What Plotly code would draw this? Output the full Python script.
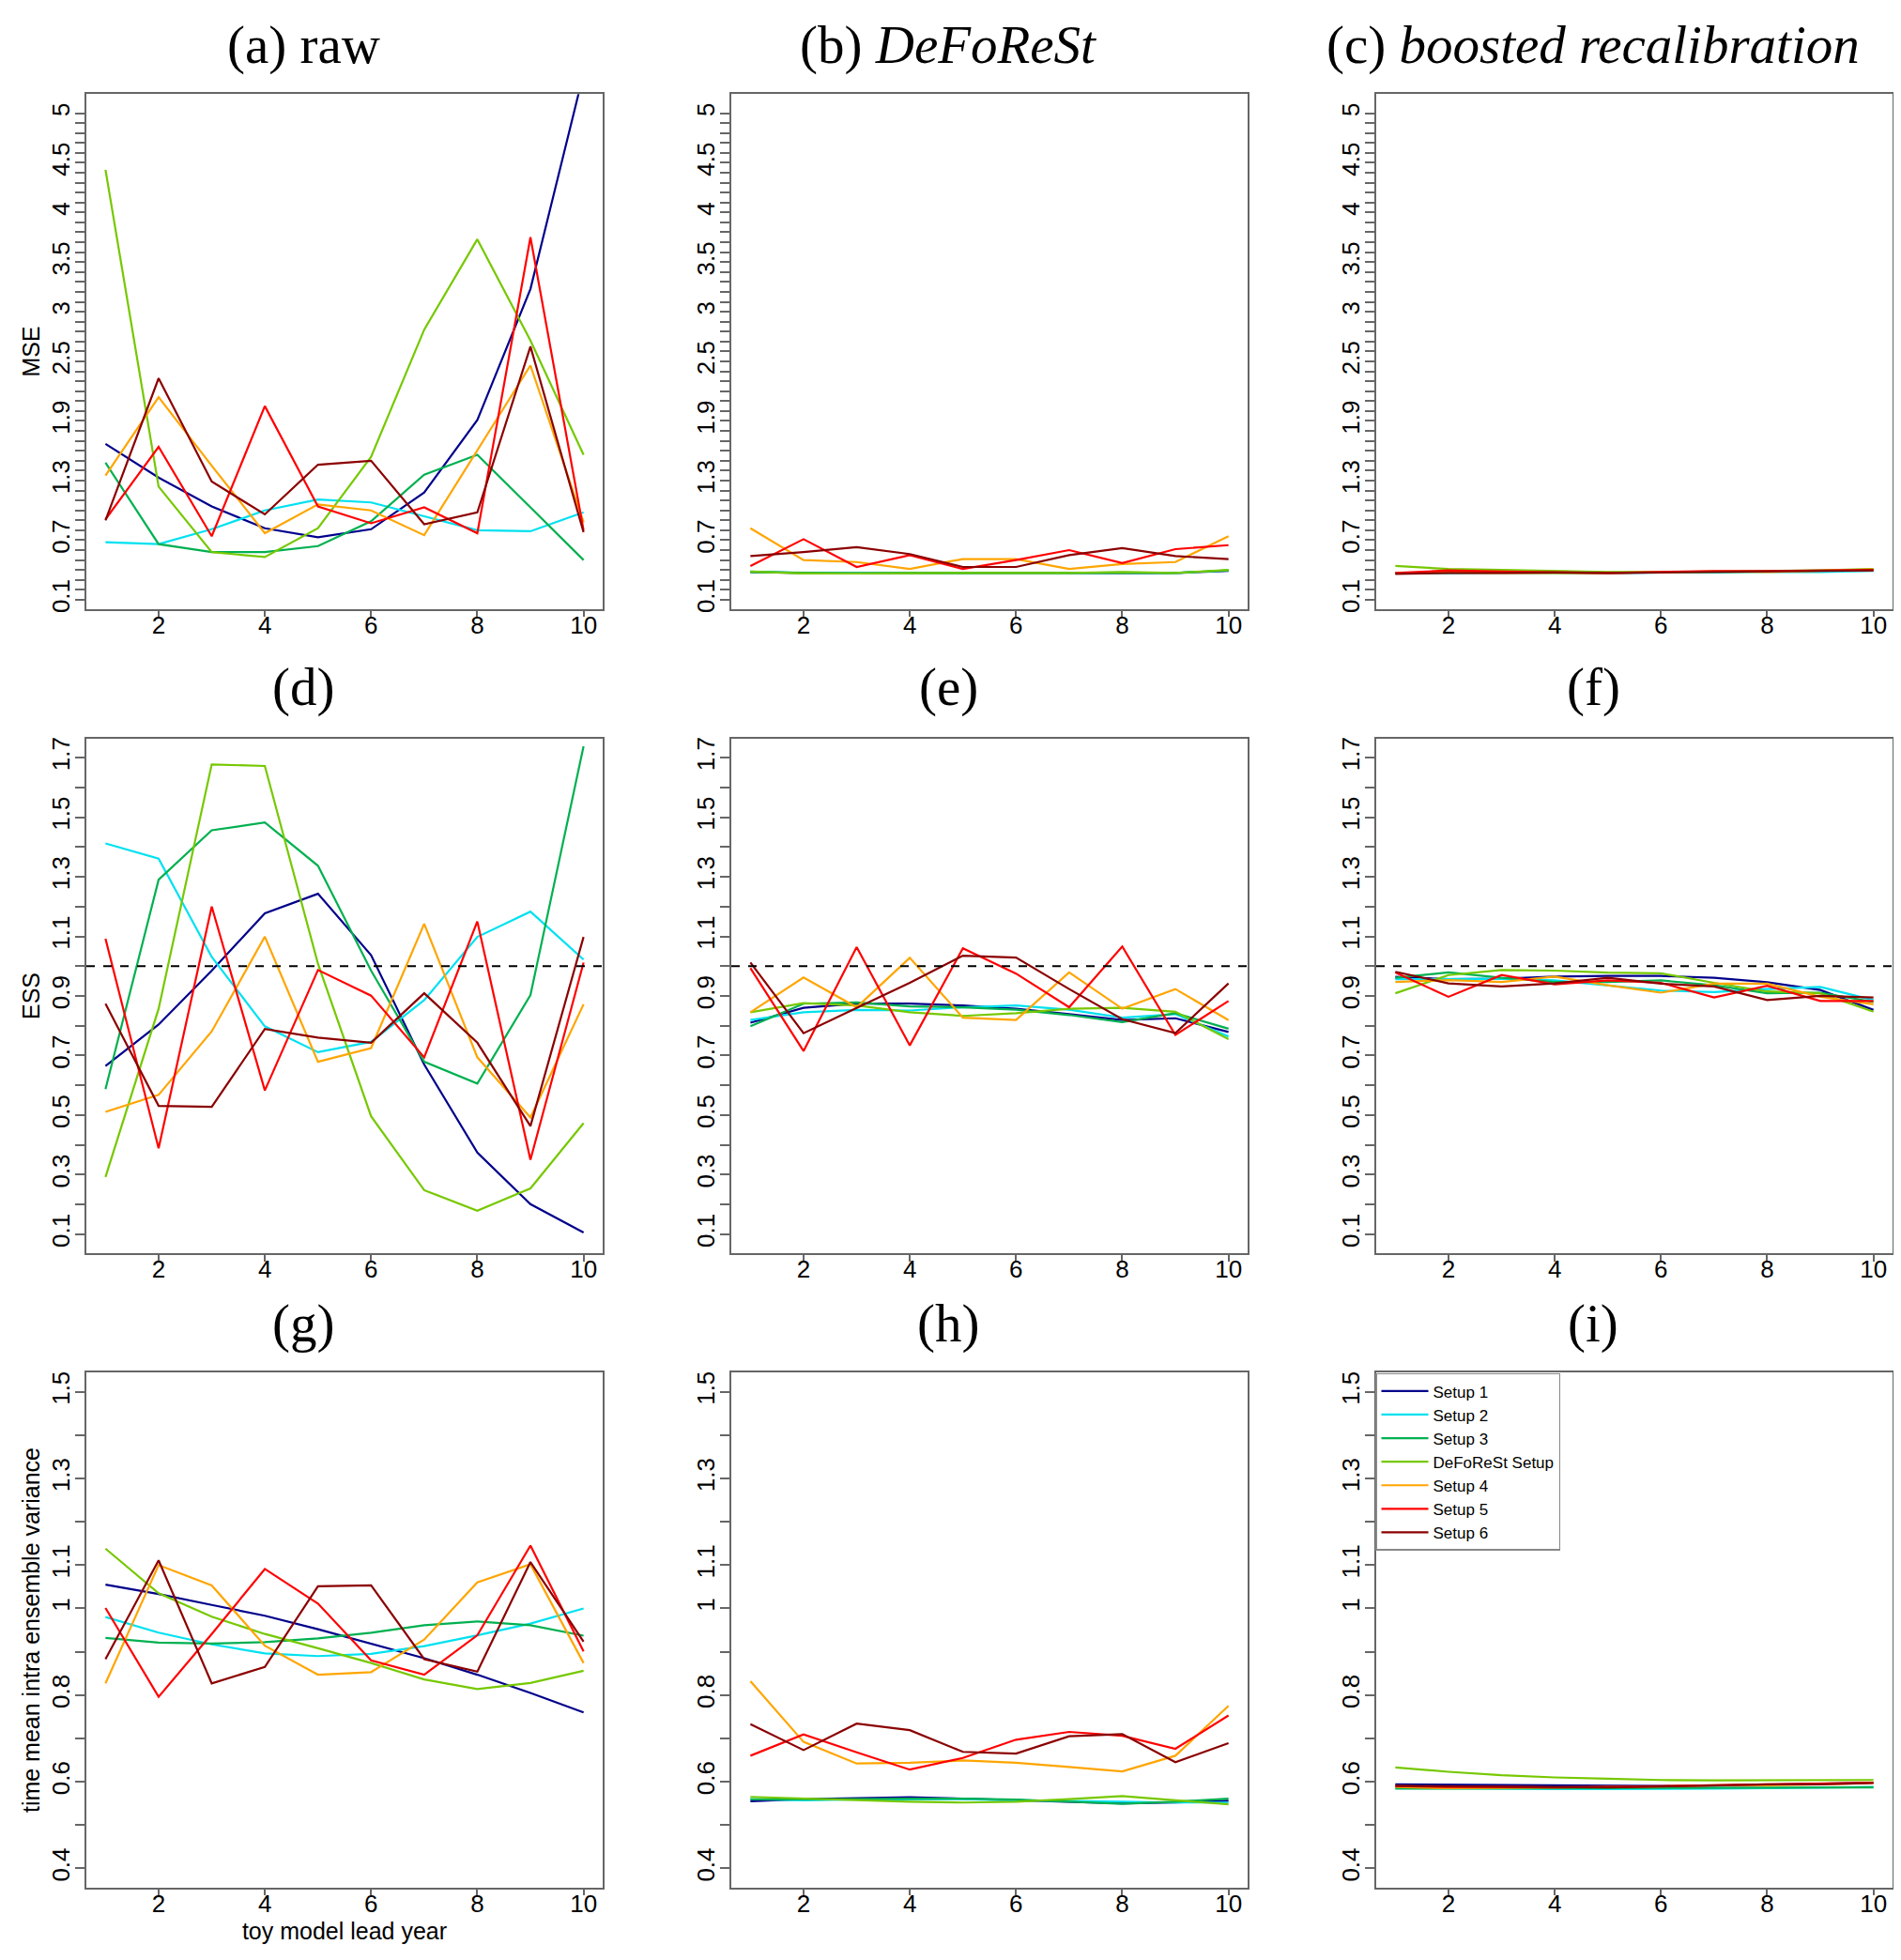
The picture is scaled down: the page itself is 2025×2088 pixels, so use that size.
import plotly.graph_objects as go

# ---------------- data ----------------
years = [1, 2, 3, 4, 5, 6, 7, 8, 9, 10]
setups = ["Setup 1", "Setup 2", "Setup 3", "DeFoReSt Setup", "Setup 4", "Setup 5", "Setup 6"]
colors = ["#00008B", "#00E1F0", "#00B050", "#76C800", "#FFA500", "#FF0000", "#8B0000"]

# MSE  (rows follow `setups`)
mse_raw = [
    [1.67, 1.33, 1.04, 0.82, 0.73, 0.81, 1.18, 1.91, 3.23, 5.40],
    [0.68, 0.66, 0.81, 1.00, 1.11, 1.08, 0.94, 0.80, 0.79, 0.98],
    [1.48, 0.66, 0.58, 0.58, 0.64, 0.89, 1.36, 1.56, 1.03, 0.50],
    [4.43, 1.24, 0.58, 0.53, 0.82, 1.54, 2.82, 3.73, 2.71, 1.56],
    [1.35, 2.14, 1.45, 0.77, 1.06, 1.00, 0.75, 1.60, 2.46, 0.88],
    [0.91, 1.64, 0.74, 2.05, 1.04, 0.87, 1.03, 0.77, 3.75, 0.80],
    [0.90, 2.33, 1.29, 0.96, 1.46, 1.50, 0.86, 0.98, 2.65, 0.78],
]
mse_deforest = [
    [0.38, 0.37, 0.37, 0.37, 0.37, 0.37, 0.37, 0.375, 0.37, 0.39],
    [0.385, 0.37, 0.37, 0.37, 0.37, 0.365, 0.37, 0.375, 0.37, 0.395],
    [0.38, 0.37, 0.365, 0.37, 0.37, 0.37, 0.37, 0.37, 0.37, 0.395],
    [0.385, 0.365, 0.365, 0.37, 0.37, 0.37, 0.37, 0.38, 0.37, 0.40],
    [0.82, 0.50, 0.48, 0.41, 0.51, 0.51, 0.41, 0.46, 0.48, 0.74],
    [0.44, 0.71, 0.43, 0.55, 0.41, 0.50, 0.60, 0.47, 0.61, 0.65],
    [0.54, 0.58, 0.63, 0.56, 0.43, 0.43, 0.55, 0.62, 0.54, 0.51],
]
mse_boosted = [
    [0.37, 0.375, 0.375, 0.375, 0.37, 0.375, 0.38, 0.385, 0.39, 0.395],
    [0.365, 0.37, 0.37, 0.37, 0.37, 0.37, 0.375, 0.38, 0.38, 0.39],
    [0.37, 0.375, 0.375, 0.37, 0.37, 0.375, 0.38, 0.385, 0.39, 0.40],
    [0.44, 0.41, 0.40, 0.39, 0.38, 0.38, 0.385, 0.39, 0.395, 0.41],
    [0.37, 0.375, 0.37, 0.37, 0.37, 0.38, 0.385, 0.38, 0.39, 0.405],
    [0.37, 0.395, 0.385, 0.375, 0.37, 0.38, 0.39, 0.39, 0.395, 0.40],
    [0.36, 0.37, 0.37, 0.375, 0.37, 0.375, 0.385, 0.39, 0.39, 0.395],
]

# ESS
ess_raw = [
    [0.665, 0.804, 0.985, 1.177, 1.243, 1.037, 0.670, 0.374, 0.201, 0.106],
    [1.412, 1.361, 1.031, 0.798, 0.711, 0.746, 0.886, 1.098, 1.183, 1.022],
    [0.587, 1.290, 1.456, 1.482, 1.337, 0.985, 0.679, 0.606, 0.903, 1.738],
    [0.292, 0.857, 1.677, 1.672, 1.008, 0.496, 0.248, 0.179, 0.254, 0.473],
    [0.511, 0.568, 0.781, 1.099, 0.679, 0.725, 1.142, 0.694, 0.492, 0.872],
    [1.092, 0.389, 1.200, 0.583, 0.987, 0.901, 0.694, 1.150, 0.350, 1.012],
    [0.874, 0.531, 0.528, 0.789, 0.760, 0.743, 0.909, 0.743, 0.463, 1.098],
]
ess_deforest = [
    [0.810, 0.860, 0.874, 0.874, 0.868, 0.857, 0.839, 0.819, 0.825, 0.779],
    [0.819, 0.845, 0.853, 0.851, 0.862, 0.868, 0.854, 0.827, 0.839, 0.764],
    [0.798, 0.874, 0.878, 0.865, 0.862, 0.854, 0.836, 0.812, 0.842, 0.790],
    [0.845, 0.876, 0.868, 0.845, 0.833, 0.842, 0.857, 0.860, 0.847, 0.755],
    [0.845, 0.962, 0.862, 1.028, 0.827, 0.819, 0.979, 0.857, 0.923, 0.819],
    [0.993, 0.715, 1.064, 0.734, 1.060, 0.975, 0.862, 1.066, 0.769, 0.883],
    [1.012, 0.775, 0.860, 0.944, 1.035, 1.029, 0.923, 0.822, 0.775, 0.942],
]
ess_boosted = [
    [0.964, 0.956, 0.958, 0.965, 0.967, 0.967, 0.961, 0.946, 0.920, 0.853],
    [0.956, 0.958, 0.958, 0.952, 0.936, 0.918, 0.913, 0.923, 0.930, 0.886],
    [0.961, 0.979, 0.961, 0.947, 0.947, 0.952, 0.936, 0.909, 0.911, 0.880],
    [0.909, 0.970, 0.987, 0.985, 0.978, 0.976, 0.944, 0.915, 0.909, 0.847],
    [0.947, 0.953, 0.947, 0.965, 0.936, 0.911, 0.941, 0.941, 0.897, 0.872],
    [0.979, 0.897, 0.970, 0.939, 0.952, 0.944, 0.895, 0.934, 0.883, 0.883],
    [0.981, 0.942, 0.932, 0.942, 0.961, 0.941, 0.932, 0.886, 0.900, 0.895],
]

# time mean intra ensemble variance
var_raw = [
    [1.055, 1.033, 1.008, 0.983, 0.952, 0.919, 0.885, 0.847, 0.805, 0.760],
    [0.980, 0.944, 0.917, 0.896, 0.890, 0.895, 0.913, 0.938, 0.965, 1.000],
    [0.932, 0.921, 0.919, 0.922, 0.931, 0.944, 0.961, 0.970, 0.961, 0.937],
    [1.138, 1.035, 0.981, 0.941, 0.908, 0.874, 0.836, 0.814, 0.828, 0.856],
    [0.827, 1.100, 1.053, 0.914, 0.847, 0.853, 0.928, 1.060, 1.102, 0.874],
    [1.001, 0.796, 0.941, 1.091, 1.011, 0.880, 0.847, 0.938, 1.145, 0.901],
    [0.883, 1.111, 0.827, 0.865, 1.051, 1.053, 0.883, 0.854, 1.107, 0.923],
]
var_deforest = [
    [0.555, 0.560, 0.562, 0.564, 0.561, 0.557, 0.554, 0.550, 0.552, 0.556],
    [0.560, 0.557, 0.559, 0.560, 0.560, 0.557, 0.556, 0.554, 0.552, 0.552],
    [0.559, 0.559, 0.560, 0.561, 0.561, 0.559, 0.554, 0.549, 0.554, 0.561],
    [0.565, 0.561, 0.557, 0.554, 0.552, 0.554, 0.560, 0.567, 0.557, 0.548],
    [0.832, 0.692, 0.642, 0.644, 0.649, 0.644, 0.634, 0.624, 0.660, 0.775],
    [0.660, 0.709, 0.668, 0.628, 0.655, 0.697, 0.715, 0.706, 0.676, 0.753],
    [0.733, 0.673, 0.734, 0.719, 0.669, 0.665, 0.705, 0.710, 0.645, 0.689],
]
var_boosted = [
    [0.594, 0.593, 0.592, 0.592, 0.590, 0.590, 0.591, 0.593, 0.595, 0.598],
    [0.585, 0.584, 0.584, 0.583, 0.583, 0.583, 0.584, 0.585, 0.586, 0.588],
    [0.584, 0.584, 0.585, 0.585, 0.585, 0.586, 0.586, 0.586, 0.587, 0.587],
    [0.633, 0.623, 0.615, 0.610, 0.607, 0.604, 0.603, 0.603, 0.603, 0.604],
    [0.588, 0.585, 0.586, 0.587, 0.588, 0.589, 0.592, 0.592, 0.594, 0.597],
    [0.590, 0.588, 0.588, 0.587, 0.588, 0.590, 0.592, 0.594, 0.595, 0.598],
    [0.590, 0.589, 0.589, 0.587, 0.587, 0.589, 0.591, 0.594, 0.594, 0.597],
]

panel_titles = ["(a) raw", "(b) <i>DeFoReSt</i>", "(c) <i>boosted recalibration</i>",
                "(d)", "(e)", "(f)", "(g)", "(h)", "(i)"]
row_ylabels = ["MSE", "ESS", "time mean intra ensemble variance"]
xlabel = "toy model lead year"

# tick positions (every 0.1) and the labels R managed to print
mse_tick_values = [round(0.1 * k, 1) for k in range(1, 51)]
mse_tick_labels = ["0.1", "0.7", "1.3", "1.9", "2.5", "3", "3.5", "4", "4.5", "5"]
ess_tick_values = [round(0.1 * k, 1) for k in range(1, 18)]
ess_tick_labels = ["0.1", "0.3", "0.5", "0.7", "0.9", "1.1", "1.3", "1.5", "1.7"]
var_tick_values = [round(0.1 * k, 1) for k in range(4, 16)]
var_tick_labels = ["0.4", "0.6", "0.8", "1", "1.1", "1.3", "1.5"]
x_tick_values = [2, 4, 6, 8, 10]

panels = [mse_raw, mse_deforest, mse_boosted,
          ess_raw, ess_deforest, ess_boosted,
          var_raw, var_deforest, var_boosted]
row_ranges = [[0.008, 5.192], [0.036, 1.764], [0.356, 1.544]]
row_ticks = [(mse_tick_values, mse_tick_labels), (ess_tick_values, ess_tick_labels),
             (var_tick_values, var_tick_labels)]

# ---------------- layout geometry (pixels) ----------------
W, H = 2025, 2088
col_left = [84, 771, 1458]
row_top = [90.5, 779, 1456.5]
box_w, box_h = 550, 550
title_x = [315, 1002, 1689]
title_y = [38, 724, 1404]

AX = "#666666"
SANS = "Liberation Sans, Arial, sans-serif"
tick_font = dict(family=SANS, size=26, color="black")

fig = go.Figure()
layout = dict(
    width=W, height=H,
    margin=dict(l=0, r=0, t=0, b=0),
    paper_bgcolor="white", plot_bgcolor="white",
    showlegend=True,
    legend=dict(x=1457 / W, y=1 - 1457 / H, xanchor="left", yanchor="top",
                bgcolor="white", bordercolor="#888888", borderwidth=1.5,
                font=dict(family=SANS, size=17, color="black"),
                tracegroupgap=0, itemwidth=50),
    annotations=[], shapes=[],
)

for p in range(9):
    r, c = divmod(p, 3)
    n = p + 1
    xa = "x" if n == 1 else f"x{n}"
    ya = "y" if n == 1 else f"y{n}"
    xkey = "xaxis" if n == 1 else f"xaxis{n}"
    ykey = "yaxis" if n == 1 else f"yaxis{n}"
    x0 = col_left[c] / W
    x1 = (col_left[c] + box_w) / W
    y1 = 1 - row_top[r] / H
    y0 = 1 - (row_top[r] + box_h) / H

    tv, tl = row_ticks[r]
    tt = [(f"{v:g}" if f"{v:g}" in tl else "") for v in tv]

    layout[xkey] = dict(domain=[x0, x1], anchor=ya, range=[0.64, 10.36],
                        tickvals=x_tick_values, ticktext=[str(v) for v in x_tick_values],
                        ticks="outside", ticklen=7, tickwidth=1.5, tickcolor=AX,
                        ticklabelstandoff=-14,
                        showline=True, linecolor=AX, linewidth=1.5, mirror=True,
                        showgrid=False, zeroline=False, tickfont=tick_font)
    layout[ykey] = dict(domain=[y0, y1], anchor=xa, range=row_ranges[r],
                        tickvals=tv, ticktext=tt, tickangle=-90,
                        ticks="outside", ticklen=10, tickwidth=1.5, tickcolor=AX,
                        ticklabelstandoff=-4,
                        showline=True, linecolor=AX, linewidth=1.5, mirror=True,
                        showgrid=False, zeroline=False, tickfont=tick_font)
    if c == 0:
        layout[ykey]["title"] = dict(text=row_ylabels[r], standoff=0,
                                     font=dict(family=SANS, size=25, color="black"))
    if p == 6:
        layout[xkey]["title"] = dict(text=xlabel, standoff=0,
                                     font=dict(family=SANS, size=25, color="black"))

    for s, name in enumerate(setups):
        fig.add_trace(go.Scatter(x=years, y=panels[p][s], mode="lines", name=name,
                                 line=dict(color=colors[s], width=2.2),
                                 xaxis=xa, yaxis=ya, showlegend=(p == 8),
                                 hoverinfo="skip"))

    if r == 1:
        layout["shapes"].append(dict(type="line", xref=f"{xa} domain", yref=ya,
                                     x0=0, x1=1, y0=1, y1=1,
                                     line=dict(color="black", width=1.8, dash="dash")))

    layout["annotations"].append(dict(text=panel_titles[p], xref="paper", yref="paper",
                                      x=title_x[c] / W, y=1 - title_y[r] / H,
                                      xanchor="center", yanchor="middle", showarrow=False,
                                      font=dict(family="Liberation Serif, Times New Roman, serif",
                                                size=57, color="black")))

fig.update_layout(**layout)
fig.write_html("out.html")
